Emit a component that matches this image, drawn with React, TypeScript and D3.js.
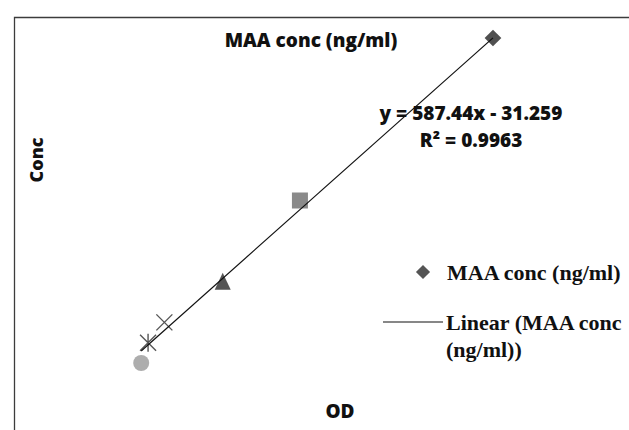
import React from "react";
import * as d3 from "d3";

const odValues = [0.069, 0.077, 0.096, 0.164, 0.254, 0.479];
const concValues = [0, 15.625, 31.25, 62.5, 125, 250];
const markerShapes = ["circle", "star", "x", "triangle", "square", "diamond"];
const markerColors = ["#adadad", "#555555", "#555555", "#555555", "#8a8a8a", "#505050"];
const trendSlope = 587.44;
const trendIntercept = -31.259;
const titleText = "MAA conc (ng/ml)";
const equationLines = ["y = 587.44x - 31.259", "R² = 0.9963"];
const legendLabels = ["MAA conc (ng/ml)", "Linear (MAA conc", "(ng/ml))"];

const W = 629;
const H = 430;

function Marker({ shape, cx, cy, color }: { shape: string; cx: number; cy: number; color: string }) {
  if (shape === "circle") return <circle cx={cx} cy={cy} r={8} fill={color} />;
  if (shape === "square") return <rect x={cx - 8} y={cy - 8} width={16} height={16} fill={color} />;
  if (shape === "diamond") {
    const p = d3.symbol(d3.symbolSquare, 140)();
    return <path d={p as string} transform={`translate(${cx},${cy}) rotate(45)`} fill={color} />;
  }
  if (shape === "triangle") {
    return <path d={`M${cx},${cy - 9}L${cx + 8},${cy + 8}L${cx - 8},${cy + 8}Z`} fill={color} />;
  }
  const s = 8;
  const xPath = `M${cx - s},${cy - s}L${cx + s},${cy + s}M${cx - s},${cy + s}L${cx + s},${cy - s}`;
  if (shape === "x") return <path d={xPath} stroke={color} strokeWidth={1.4} fill="none" />;
  return <path d={`${xPath}M${cx},${cy - s - 1}L${cx},${cy + s + 1}`} stroke={color} strokeWidth={1.4} fill="none" />;
}

export default function App() {
  const x = d3.scaleLinear().domain([0, 0.5]).range([82, 511]);
  const y = d3.scaleLinear().domain([0, 250]).range([363, 38]);
  const xMin = d3.min(odValues) as number;
  const xMax = d3.max(odValues) as number;
  const trend = d3.line<number>()
    .x((d) => x(d))
    .y((d) => y(trendSlope * d + trendIntercept))([xMin, xMax]);
  const sans = "'Open Sans', 'Noto Sans', sans-serif";
  const serif = "'Liberation Serif', 'DejaVu Serif', serif";
  const legendDiamond = d3.symbol(d3.symbolSquare, 100)();
  return (
    <svg width={W} height={H} style={{ position: "absolute", left: 0, top: 0, background: "#fff" }}>
      <rect x={0} y={0} width={W} height={H} fill="#fff" />
      <path d={`M14.5,${H}L14.5,17.5L${W},17.5`} stroke="#3c3c3c" strokeWidth={1.3} fill="none" />
      <text x={311} y={47} textAnchor="middle" fontFamily={sans} fontWeight={800} fontSize={19} fill="#111">
        {titleText}
      </text>
      {odValues.map((od, i) => (
        <Marker key={i} shape={markerShapes[i]} cx={x(od)} cy={y(concValues[i])} color={markerColors[i]} />
      ))}
      <path d={trend as string} stroke="#111" strokeWidth={1.2} fill="none" />
      <text x={471} y={120} textAnchor="middle" fontFamily={sans} fontWeight={800} fontSize={19} fill="#111">
        {equationLines[0]}
      </text>
      <text x={471} y={147} textAnchor="middle" fontFamily={sans} fontWeight={800} fontSize={19} fill="#111">
        {equationLines[1]}
      </text>
      <text x={38} y={160} transform="rotate(-90,38,160)" textAnchor="middle" dominantBaseline="middle" fontFamily={sans} fontWeight={800} fontSize={18} fill="#111">
        Conc
      </text>
      <text x={340} y={418} textAnchor="middle" fontFamily={sans} fontWeight={800} fontSize={19} fill="#111">
        OD
      </text>
      <path d={legendDiamond as string} transform="translate(423,272) rotate(45)" fill="#555" />
      <text x={447} y={280} fontFamily={serif} fontWeight="bold" fontSize={22} fill="#111">
        {legendLabels[0]}
      </text>
      <line x1={383} x2={443} y1={322} y2={322} stroke="#111" strokeWidth={1.2} />
      <text x={446} y={330} fontFamily={serif} fontWeight="bold" fontSize={22} fill="#111">
        {legendLabels[1]}
      </text>
      <text x={446} y={357} fontFamily={serif} fontWeight="bold" fontSize={22} fill="#111">
        {legendLabels[2]}
      </text>
    </svg>
  );
}
